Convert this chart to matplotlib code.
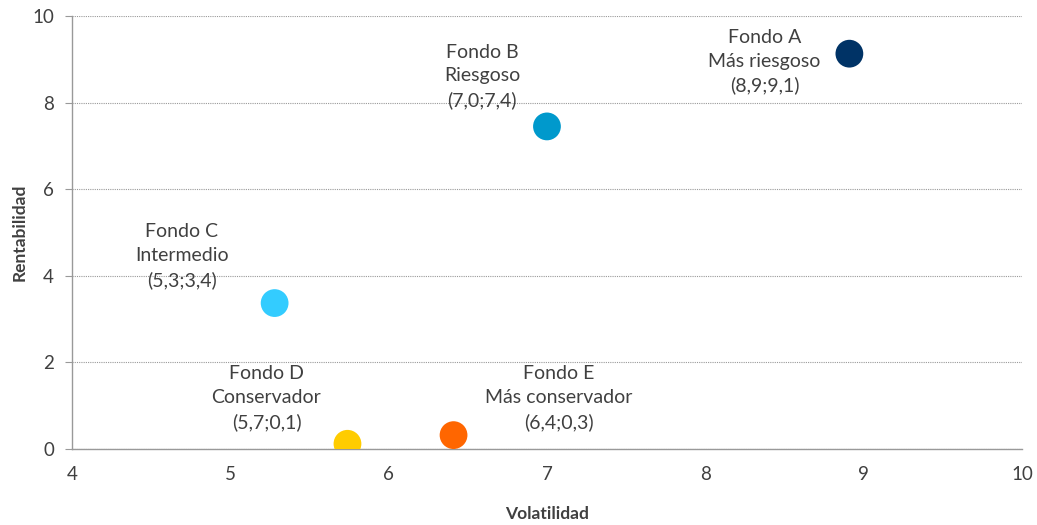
import numpy as np
import matplotlib.pyplot as plt

plt.rcParams['font.family'] = ['Lato', 'DejaVu Sans']

# datos de los fondos
fondos = ['Fondo A\nMás riesgoso\n(8,9;9,1)',
          'Fondo B\nRiesgoso\n(7,0;7,4)',
          'Fondo C\nIntermedio\n(5,3;3,4)',
          'Fondo D\nConservador\n(5,7;0,1)',
          'Fondo E\nMás conservador\n(6,4;0,3)']
volatilidad = [8.91, 7.0, 5.28, 5.74, 6.41]
rentabilidad = [9.13, 7.45, 3.37, 0.12, 0.32]
colores = ['#003366', '#0099CC', '#33CCFF', '#FFCC00', '#FF6600']
# desplazamiento de cada etiqueta respecto al punto (pixeles)
offsets = [(-85, -8), (-65, 50), (-93, 47), (-81, 46), (105, 37)]

fig = plt.figure(figsize=(10.37, 5.25), dpi=100)
ax = fig.add_axes([0.0694, 0.1448, 0.9161, 0.8247])

ax.scatter(volatilidad, rentabilidad, s=400, c=colores, zorder=3, linewidths=0)

for i in range(len(fondos)):
    ax.annotate(fondos[i], (volatilidad[i], rentabilidad[i]),
                xytext=offsets[i], textcoords='offset pixels',
                ha='center', va='center', multialignment='center',
                fontsize=14, linespacing=1.48, color='#404040')

ax.set_xlim(4, 10)
ax.set_ylim(0, 10)
ax.set_xticks(np.arange(4, 11, 1))
ax.set_yticks(np.arange(0, 11, 2))
ax.yaxis.grid(True, linestyle=(0, (1, 1)), color='#999999', linewidth=0.8)
ax.set_axisbelow(True)

for s in ['top', 'right']:
    ax.spines[s].set_visible(False)
for s in ['left', 'bottom']:
    ax.spines[s].set_color('#999999')
    ax.spines[s].set_linewidth(1.0)

ax.tick_params(axis='y', length=5, color='#999999', labelsize=13.5, labelcolor='#404040', pad=8)
ax.tick_params(axis='x', length=0, labelsize=13.5, labelcolor='#404040', pad=12)

ax.set_xlabel('Volatilidad', fontsize=12.5, fontweight='bold', color='#404040', labelpad=17)
ax.set_ylabel('Rentabilidad', fontsize=12.5, fontweight='bold', color='#404040', labelpad=3)

fig.savefig('out.png', dpi=100)
